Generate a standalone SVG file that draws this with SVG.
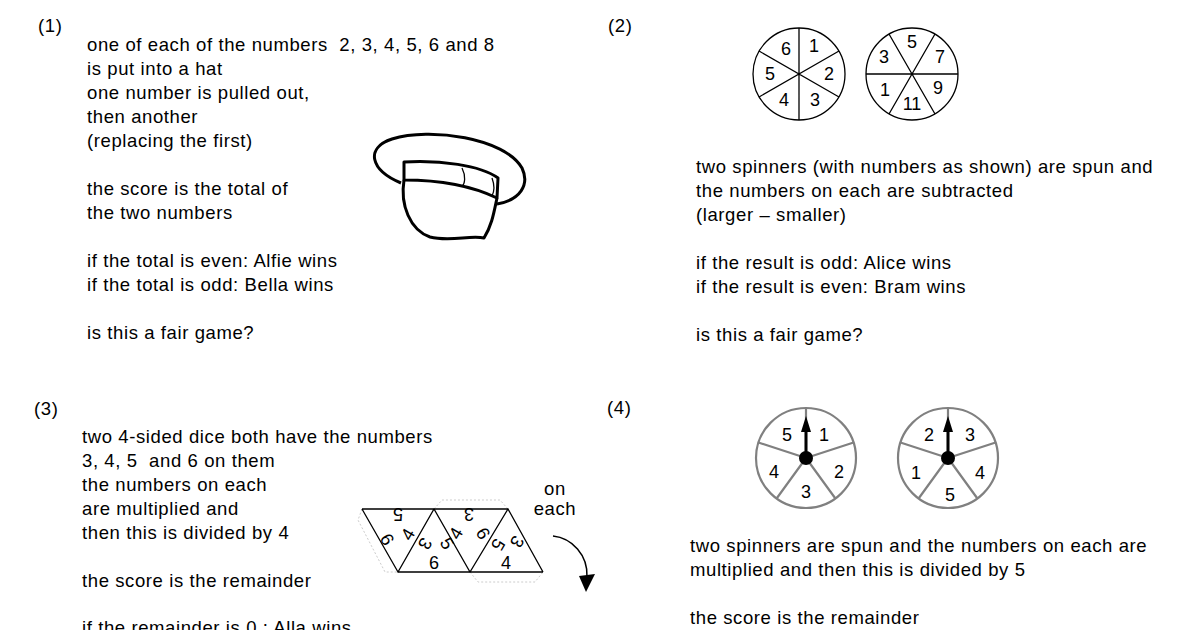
<svg xmlns="http://www.w3.org/2000/svg" width="1200" height="630" viewBox="0 0 1200 630">
<style>
text{font-family:"Liberation Sans",Arial,sans-serif;font-size:18.5px;letter-spacing:0.6px;fill:#000;white-space:pre}
.n{font-size:18px;letter-spacing:0;text-anchor:middle}
.s{fill:none;stroke:#000;stroke-width:1.3}
.g{fill:none;stroke:#808080;stroke-width:2.2}
.h{fill:none;stroke:#000;stroke-width:3;stroke-linejoin:round}
.d{fill:none;stroke:#ccc;stroke-width:1;stroke-dasharray:2 2}
</style>
<rect width="1200" height="630" fill="#fff"/>
<g id="q1">
<text x="38" y="32">(1)</text>
<text x="87" y="51">one of each of the numbers&#160; 2, 3, 4, 5, 6 and 8</text>
<text x="87" y="75">is put into a hat</text>
<text x="87" y="99">one number is pulled out,</text>
<text x="87" y="123">then another</text>
<text x="87" y="147">(replacing the first)</text>
<text x="87" y="195">the score is the total of</text>
<text x="87" y="219">the two numbers</text>
<text x="87" y="267">if the total is even: Alfie wins</text>
<text x="87" y="291">if the total is odd: Bella wins</text>
<text x="87" y="339">is this a fair game?</text>
</g>
<g id="hat">
<path class="h" d="M401,183 C370,170 365,148 392,139 C430,127 505,138 522,168 C530,185 520,200 497,204"/>
<path class="h" d="M404,162 C440,160 480,165 498,178 L497,198 C470,185 440,180 404,180 Z"/>
<path class="s" d="M462,168 C466,176 465,184 462,186 M492,178 C495,186 494,192 492,196"/>
<path class="h" d="M404,180 C400,205 410,230 430,237 C450,242 470,235 484,238 C492,225 494,212 497,198"/>
</g>
<g id="q2">
<text x="608" y="32">(2)</text>
<text x="696" y="173">two spinners (with numbers as shown) are spun and</text>
<text x="696" y="197">the numbers on each are subtracted</text>
<text x="696" y="221">(larger – smaller)</text>
<text x="696" y="269">if the result is odd: Alice wins</text>
<text x="696" y="293">if the result is even: Bram wins</text>
<text x="696" y="341">is this a fair game?</text>
</g>
<g id="spinner2a">
<circle class="s" cx="799" cy="74" r="46" stroke-width="2"/>
<path class="s" d="M799,28 V120 M759,51 L839,97 M759,97 L839,51" stroke-width="1"/>
<text class="n" x="786" y="55">6</text><text class="n" x="814" y="52">1</text>
<text class="n" x="770" y="80">5</text><text class="n" x="829" y="80">2</text>
<text class="n" x="784" y="106">4</text><text class="n" x="815" y="106">3</text>
</g>
<g id="spinner2b">
<circle class="s" cx="912" cy="74" r="46" stroke-width="2"/>
<path class="s" d="M866,74 H958 M889,34 L935,114 M935,34 L889,114" stroke-width="1"/>
<text class="n" x="912" y="48">5</text><text class="n" x="884" y="63">3</text>
<text class="n" x="940" y="63">7</text><text class="n" x="885" y="96">1</text>
<text class="n" x="938" y="94">9</text><text class="n" x="912" y="110">11</text>
</g>
<g id="q3">
<text x="34" y="415">(3)</text>
<text x="82" y="443">two 4-sided dice both have the numbers</text>
<text x="82" y="467">3, 4, 5&#160; and 6 on them</text>
<text x="82" y="491">the numbers on each</text>
<text x="82" y="515">are multiplied and</text>
<text x="82" y="539">then this is divided by 4</text>
<text x="82" y="587">the score is the remainder</text>
<text x="82" y="634">if the remainder is 0 : Alla wins</text>
<text x="555" y="495" font-size="14" text-anchor="middle" letter-spacing="0">on</text>
<text x="555" y="515" font-size="14" text-anchor="middle" letter-spacing="0">each</text>
</g>
<g id="dice">
<path class="d" d="M362,509 L358,520 L385,572 L398,572 M434,509 L442,500 L500,500 L508,509 M470,572 L478,582 L535,582 L543,572"/>
<path class="s" d="M362,509 H508 M398,572 H543 M362,509 L398,572 L434,509 L470,572 L508,509 L543,572"/>
<text class="n" font-family="Liberation Serif" x="398" y="518" transform="rotate(180 398 513)" font-size="15">5</text>
<text class="n" x="469" y="518" transform="rotate(180 469 513)" font-size="15" font-family="Liberation Serif">3</text>
<text class="n" x="386" y="545" transform="rotate(60 386 540)" font-size="15" font-family="Liberation Serif">6</text>
<text class="n" x="409" y="540" transform="rotate(-60 409 535)" font-size="15" font-family="Liberation Serif">4</text>
<text class="n" x="424" y="548" transform="rotate(120 424 543)" font-size="15" font-family="Liberation Serif">3</text>
<text class="n" x="446" y="549" transform="rotate(60 446 544)" font-size="15" font-family="Liberation Serif">5</text>
<text class="n" x="457" y="539" transform="rotate(-60 457 534)" font-size="15" font-family="Liberation Serif">4</text>
<text class="n" x="482" y="539" transform="rotate(60 482 534)" font-size="15" font-family="Liberation Serif">6</text>
<text class="n" x="497" y="549" transform="rotate(120 497 544)" font-size="15" font-family="Liberation Serif">5</text>
<text class="n" x="516" y="546" transform="rotate(120 516 541)" font-size="15" font-family="Liberation Serif">3</text>
<text class="n" x="434" y="569" font-size="15" font-family="Liberation Serif">6</text>
<text class="n" x="506" y="569" font-size="15" font-family="Liberation Serif">4</text>
</g>
<g id="connectors">
<path d="M553,536 C572,538 588,555 587,577" fill="none" stroke="#000" stroke-width="1.5"/>
<path d="M579,576 L595,574 L586,592 Z" fill="#000"/>
</g>
<g id="q4">
<text x="607" y="414">(4)</text>
<text x="690" y="552">two spinners are spun and the numbers on each are</text>
<text x="690" y="576">multiplied and then this is divided by 5</text>
<text x="690" y="624">the score is the remainder</text>
</g>
<g id="spinner4a">
<circle class="g" cx="806" cy="458" r="50"/>
<path class="g" d="M806,458 V408 M806,458 L853.6,442.5 M806,458 L835.4,498.5 M806,458 L776.6,498.5 M806,458 L758.4,442.5"/>
<path d="M806,458 V428" stroke="#000" stroke-width="3"/>
<path d="M801,432 L806,416 L811,432 Z" fill="#000"/>
<circle cx="806" cy="458" r="7" fill="#000"/>
<text class="n" x="787" y="441" font-size="19">5</text><text class="n" x="824" y="441" font-size="19">1</text>
<text class="n" x="774" y="478" font-size="19">4</text><text class="n" x="839" y="478" font-size="19">2</text>
<text class="n" x="806" y="498" font-size="19">3</text>
</g>
<g id="spinner4b">
<circle class="g" cx="948" cy="458" r="50"/>
<path class="g" d="M948,458 V408 M948,458 L995.6,442.5 M948,458 L977.4,498.5 M948,458 L918.6,498.5 M948,458 L900.4,442.5"/>
<path d="M948,458 V428" stroke="#000" stroke-width="3"/>
<path d="M943,432 L948,416 L953,432 Z" fill="#000"/>
<circle cx="948" cy="458" r="7" fill="#000"/>
<text class="n" x="929" y="441" font-size="19">2</text><text class="n" x="970" y="441" font-size="19">3</text>
<text class="n" x="916" y="479" font-size="19">1</text><text class="n" x="980" y="479" font-size="19">4</text>
<text class="n" x="950" y="501" font-size="19">5</text>
</g>
</svg>
